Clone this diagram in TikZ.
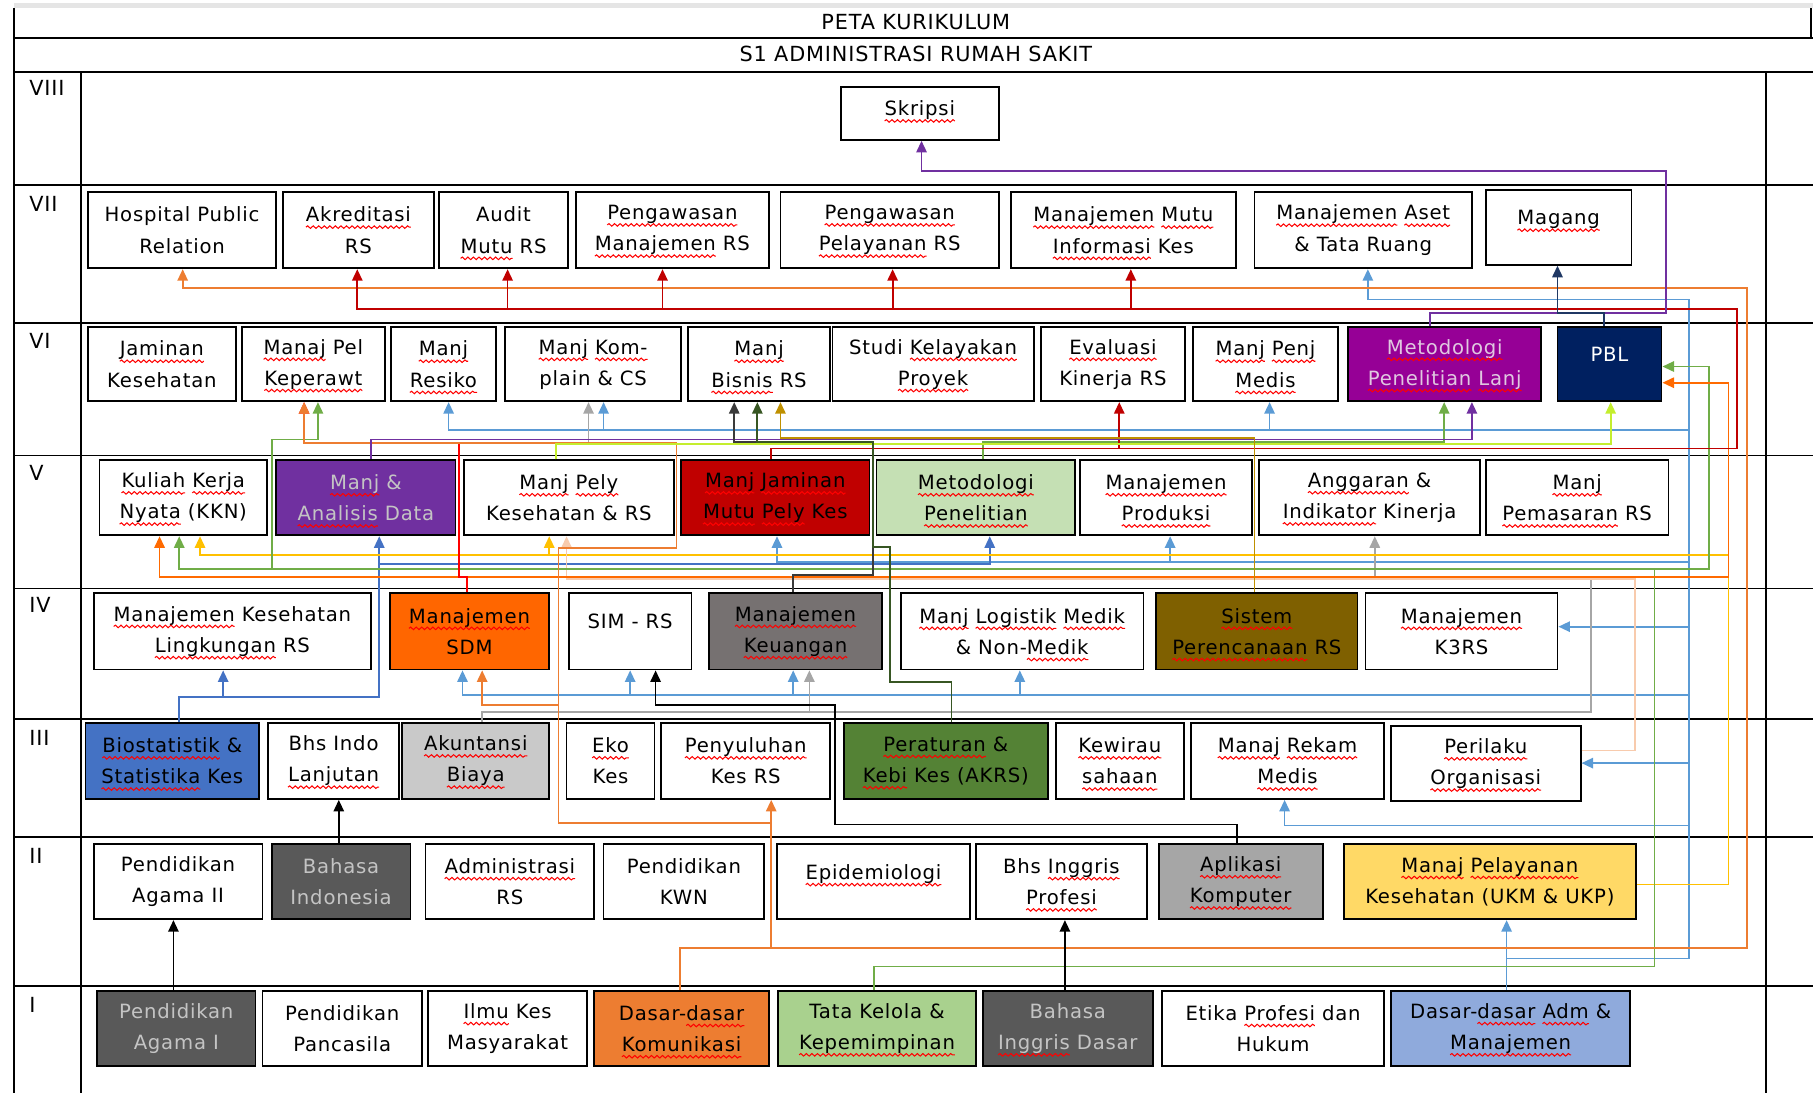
\documentclass[tikz,border=0pt]{standalone}
\usepackage{fontspec}
\setmainfont{DejaVu Sans}[LetterSpace=4]
\usetikzlibrary{fit,arrows.meta,decorations.pathmorphing}
\newcommand\wv[1]{\tikz[baseline=(w.base)]{\node[draw=none,fill=none,inner sep=0pt,outer sep=0pt,minimum width=0pt,minimum height=0pt,anchor=base,shape=rectangle] (w) at (0,0) {#1}; \draw[overlay,red,line width=0.45pt,fill=none,decorate,decoration={snake,amplitude=0.55pt,segment length=2.4pt}] ([yshift=-2.3pt]w.base west) -- ([yshift=-2.3pt]w.base east);}}
\newcommand\oneln[1]{\raisebox{1pt}[0pt][0pt]{#1}}
\newcommand\bfnt{\fontsize{8.5}{13.5}\selectfont}
\newcommand\bx[7]{\node[box,#6,fit={(#2,#3) (#4,#5)}] (#1) {};
  \node[btxt,#6,fill=none] (#1t) at (#1.center) {#7};}
\definecolor{cOrg}{HTML}{ED7D31}
\definecolor{cBOrg}{HTML}{FF6A00}
\definecolor{cRed}{HTML}{C00000}
\definecolor{cBRed}{HTML}{FF0000}
\definecolor{cLB}{HTML}{5B9BD5}
\definecolor{cDB}{HTML}{4472C4}
\definecolor{cGrn}{HTML}{70AD47}
\definecolor{cDGrn}{HTML}{375623}
\definecolor{cGold}{HTML}{BF9000}
\definecolor{cYel}{HTML}{FFC000}
\definecolor{cLime}{HTML}{C4EE2E}
\definecolor{cSal}{HTML}{F8CBAD}
\definecolor{cGry}{HTML}{A6A6A6}
\definecolor{cPur}{HTML}{7030A0}
\definecolor{cNavy}{HTML}{203864}
\definecolor{cDk}{HTML}{3A3A3A}
\definecolor{fMetLanj}{HTML}{960096}
\definecolor{fPBL}{HTML}{002060}
\definecolor{fAnal}{HTML}{7030A0}
\definecolor{fJam}{HTML}{C00000}
\definecolor{fMet}{HTML}{C5E0B4}
\definecolor{fSDM}{HTML}{FF6600}
\definecolor{fKeu}{HTML}{767171}
\definecolor{fPer}{HTML}{7F6000}
\definecolor{fBio}{HTML}{4472C4}
\definecolor{fAku}{HTML}{C9C9C9}
\definecolor{fPera}{HTML}{548235}
\definecolor{fDark}{HTML}{595959}
\definecolor{fApl}{HTML}{A6A6A6}
\definecolor{fUKM}{HTML}{FFD966}
\definecolor{fKom}{HTML}{ED7D31}
\definecolor{fTata}{HTML}{A9D18E}
\definecolor{fAdm}{HTML}{8FAADC}
\definecolor{tLight}{HTML}{C4C4C4}
\definecolor{tPink}{HTML}{E0C8E0}
\begin{document}
\begin{tikzpicture}[x=0.5pt,y=-0.5pt,
  box/.style={draw=black,line width=0.8pt,inner sep=0pt},
  btxt/.style={draw=none,inner sep=0pt,align=center,font=\bfnt,text=black},
  tbl/.style={line width=0.8pt,black},
  ln/.style={line width=0.75pt},
  ar/.style={ln,-{Triangle[length=5pt,width=4.5pt]}},
  rowlbl/.style={anchor=north west,inner sep=0pt,font=\fontsize{9}{10}\selectfont},
  ttl/.style={inner sep=0pt,font=\fontsize{9}{10}\selectfont}]
\useasboundingbox (0,0) rectangle (1568,945);
% ---------- table ----------
\fill[black!10] (12,3) rectangle (1568,7);
\draw[tbl] (12,7) -- (12,945);
\draw[tbl] (1566,7) -- (1566,33);
\foreach \yy in {33,62,160,279,394,509,622,724,853} \draw[tbl] (12,\yy) -- (1568,\yy);
\draw[tbl] (70,62) -- (70,945);
\draw[tbl] (1527,62) -- (1527,945);
\node[ttl] (t1) at (792,19) {PETA KURIKULUM};
\node[ttl] (t2) at (792,47) {S1 ADMINISTRASI RUMAH SAKIT};
\node[rowlbl] (r8) at (25,69) {VIII};
\node[rowlbl] (r7) at (25,169) {VII};
\node[rowlbl] (r6) at (25,288) {VI};
\node[rowlbl] (r5) at (25,402) {V};
\node[rowlbl] (r4) at (25,516) {IV};
\node[rowlbl] (r3) at (25,631) {III};
\node[rowlbl] (r2) at (25,733) {II};
\node[rowlbl] (r1) at (25,862) {I};
% ---------- boxes ----------
\bx{skripsi}{727}{75}{864}{121}{}{\raisebox{-1pt}[0pt][0pt]{\wv{Skripsi}}}
% VII
\bx{hpr}{76}{166}{239}{232}{}{Hospital Public\\Relation}
\bx{akre}{245}{166}{375}{232}{}{\wv{Akreditasi}\\RS}
\bx{audit}{380}{166}{491}{232}{}{Audit\\\wv{Mutu} RS}
\bx{pman}{498}{166}{665}{232}{}{\wv{Pengawasan}\\\wv{Manajemen} RS}
\bx{ppel}{675}{166}{864}{232}{}{\wv{Pengawasan}\\\wv{Pelayanan} RS}
\bx{mmik}{874}{166}{1069}{232}{}{\wv{Manajemen} \wv{Mutu}\\\wv{Informasi} Kes}
\bx{aset}{1085}{166}{1273}{232}{}{\wv{Manajemen} \wv{Aset}\\\& Tata Ruang}
\bx{magang}{1285}{164}{1411}{229}{}{\oneln{\wv{Magang}}}
% VI
\bx{jamkes}{76}{283}{204}{347}{}{\wv{Jaminan}\\Kesehatan}
\bx{keper}{209}{283}{333}{347}{}{\wv{Manaj} Pel\\\wv{Keperawt}}
\bx{resiko}{338}{283}{429}{347}{}{\wv{Manj}\\\wv{Resiko}}
\bx{komplain}{437}{283}{589}{347}{}{\wv{Manj} \wv{Kom-}\\plain \& CS}
\bx{bisnis}{595}{283}{718}{347}{}{\wv{Manj}\\\wv{Bisnis} RS}
\bx{studi}{720}{283}{894}{347}{}{Studi \wv{Kelayakan}\\\wv{Proyek}}
\bx{evalu}{900}{283}{1025}{347}{}{\wv{Evaluasi}\\Kinerja RS}
\bx{penj}{1032}{283}{1157}{347}{}{\wv{Manj} \wv{Penj}\\\wv{Medis}}
\bx{metlanj}{1166}{283}{1333}{347}{fill=fMetLanj,text=tPink}{\wv{Metodologi}\\\wv{Penelitian} \wv{Lanj}}
\bx{pbl}{1347}{283}{1437}{347}{fill=fPBL,text=white}{\oneln{PBL}}
% V
\bx{kkn}{86}{398}{231}{463}{}{\wv{Kuliah} \wv{Kerja}\\\wv{Nyata} (KKN)}
\bx{analisis}{239}{398}{394}{463}{fill=fAnal,text=tLight}{\wv{Manj} \&\\\wv{Analisis} Data}
\bx{pely}{401}{398}{583}{463}{}{\wv{Manj} \wv{Pely}\\Kesehatan \& RS}
\bx{jammutu}{589}{398}{752}{463}{fill=fJam}{\wv{Manj} \wv{Jaminan}\\\wv{Mutu} \wv{Pely} Kes}
\bx{metpen}{758}{398}{930}{463}{fill=fMet}{\wv{Metodologi}\\\wv{Penelitian}}
\bx{produksi}{934}{398}{1083}{463}{}{\wv{Manajemen}\\\wv{Produksi}}
\bx{anggaran}{1089}{398}{1280}{463}{}{\wv{Anggaran} \&\\\wv{Indikator} Kinerja}
\bx{pemasaran}{1285}{398}{1443}{463}{}{\wv{Manj}\\\wv{Pemasaran} RS}
% IV
\bx{kesling}{81}{513}{321}{579}{}{\wv{Manajemen} Kesehatan\\\wv{Lingkungan} RS}
\bx{sdm}{337}{513}{475}{579}{fill=fSDM}{\wv{Manajemen}\\SDM}
\bx{sim}{492}{513}{598}{579}{}{\oneln{SIM - RS}}
\bx{keuangan}{613}{513}{763}{579}{fill=fKeu}{\wv{Manajemen}\\\wv{Keuangan}}
\bx{logistik}{779}{513}{989}{579}{}{\wv{Manj} \wv{Logistik} \wv{Medik}\\\& Non-\wv{Medik}}
\bx{perencanaan}{1000}{513}{1174}{579}{fill=fPer}{\wv{Sistem}\\\wv{Perencanaan} RS}
\bx{k3rs}{1181}{513}{1347}{579}{}{\wv{Manajemen}\\K3RS}
% III
\bx{biostat}{74}{625}{224}{691}{fill=fBio}{\wv{Biostatistik} \&\\\wv{Statistika} Kes}
\bx{bhsindol}{232}{625}{345}{691}{}{Bhs Indo\\\wv{Lanjutan}}
\bx{akuntansi}{348}{625}{475}{691}{fill=fAku}{\wv{Akuntansi}\\\wv{Biaya}}
\bx{eko}{490}{625}{566}{691}{}{\wv{Eko}\\Kes}
\bx{penyuluhan}{572}{625}{718}{691}{}{\wv{Penyuluhan}\\Kes RS}
\bx{peraturan}{730}{625}{906}{691}{fill=fPera}{\wv{Peraturan} \&\\\wv{Kebi} Kes (AKRS)}
\bx{kewira}{913}{625}{1024}{691}{}{\wv{Kewirau}\\\wv{sahaan}}
\bx{rekam}{1030}{625}{1197}{691}{}{\wv{Manaj} \wv{Rekam}\\\wv{Medis}}
\bx{perilaku}{1203}{628}{1367}{693}{}{\wv{Perilaku}\\\wv{Organisasi}}
% II
\bx{agama2}{81}{730}{227}{795}{}{Pendidikan\\Agama II}
\bx{bahasaind}{235}{730}{355}{795}{fill=fDark,text=tLight}{Bahasa\\Indonesia}
\bx{adminrs}{368}{730}{514}{795}{}{\wv{Administrasi}\\RS}
\bx{kwn}{522}{730}{661}{795}{}{Pendidikan\\KWN}
\bx{epid}{672}{730}{839}{795}{}{\oneln{\wv{Epidemiologi}}}
\bx{inggprof}{844}{730}{992}{795}{}{Bhs \wv{Inggris}\\\wv{Profesi}}
\bx{aplikasi}{1002}{730}{1144}{795}{fill=fApl}{\wv{Aplikasi}\\\wv{Komputer}}
\bx{ukm}{1162}{730}{1415}{795}{fill=fUKM}{\wv{Manaj} \wv{Pelayanan}\\Kesehatan (UKM \& UKP)}
% I
\bx{agama1}{84}{857}{221}{922}{fill=fDark,text=tLight}{Pendidikan\\Agama I}
\bx{pancasila}{227}{857}{365}{922}{}{Pendidikan\\Pancasila}
\bx{ilmukes}{370}{857}{508}{922}{}{\wv{Ilmu} Kes\\Masyarakat}
\bx{komunikasi}{514}{857}{665}{922}{fill=fKom}{Dasar-\wv{dasar}\\\wv{Komunikasi}}
\bx{tatakelola}{673}{857}{844}{922}{fill=fTata}{Tata Kelola \&\\\wv{Kepemimpinan}}
\bx{inggdasar}{850}{857}{997}{922}{fill=fDark,text=tLight}{Bahasa\\\wv{Inggris} Dasar}
\bx{etika}{1005}{857}{1197}{922}{}{Etika \wv{Profesi} dan\\Hukum}
\bx{dasaradm}{1203}{857}{1410}{922}{fill=fAdm}{Dasar-\wv{dasar} \wv{Adm} \&\\\wv{Manajemen}}
% ---------- connector start points ----------
\coordinate (adm0) at (dasaradm.north -| 1303,0);
\coordinate (bio0) at (biostat.north -| 155,0);
\coordinate (kom0) at (komunikasi.north -| 588,0);
\coordinate (sdm0) at (sdm.north -| 404,0);
\coordinate (jm0) at (jammutu.north -| 667,0);
\coordinate (tk0) at (tatakelola.north -| 756,0);
\coordinate (ukm0) at (ukm.east |- 0,765);
% ---------- light blue (Dasar-dasar Adm) ----------
\draw[ar,cLB] (adm0) -- (ukm.south -| 1303,0);
\draw[ar,cLB] (adm0) |- (1461,829) -- (1461,259) -| (aset.south -| 1183,0);
\draw[ar,cLB] (adm0) |- (1461,829) -- (1461,372) -| (resiko.south -| 388,0);
\draw[ar,cLB] (adm0) |- (1461,829) -- (1461,372) -| (komplain.south -| 522,0);
\draw[ar,cLB] (adm0) |- (1461,829) -- (1461,372) -| (penj.south -| 1098,0);
\draw[ar,cLB] (adm0) |- (1461,829) -- (1461,486) -| (jammutu.south -| 672,0);
\draw[ar,cLB] (adm0) |- (1461,829) -- (1461,486) -| (produksi.south -| 1012,0);
\draw[ar,cLB] (adm0) |- (1461,829) -- (1461,542) -- (k3rs.east |- 0,542);
\draw[ar,cLB] (adm0) |- (1461,829) -- (1461,601) -| (sdm.south -| 400,0);
\draw[ar,cLB] (adm0) |- (1461,829) -- (1461,601) -| (sim.south -| 545,0);
\draw[ar,cLB] (adm0) |- (1461,829) -- (1461,601) -| (keuangan.south -| 686,0);
\draw[ar,cLB] (adm0) |- (1461,829) -- (1461,601) -| (logistik.south -| 882,0);
\draw[ar,cLB] (adm0) |- (1461,829) -- (1461,660) -- (perilaku.east |- 0,660);
\draw[ar,cLB] (adm0) |- (1461,829) -- (1461,714) -| (rekam.south -| 1111,0);
% ---------- dark blue (Biostatistik) ----------
\draw[ar,cDB] (bio0) |- (328,603) -- (analisis.south -| 328,0);
\draw[ar,cDB] (bio0) |- (193,603) -- (kesling.south -| 193,0);
\draw[ar,cDB] (bio0) |- (328,603) -- (328,488) -| (metpen.south -| 856,0);
% ---------- gray (Akuntansi Biaya) ----------
\draw[ar,cGry] (akuntansi.north -| 417,0) |- (1376,616) |- (1189,500) -- (anggaran.south -| 1189,0);
\draw[ar,cGry] (akuntansi.north -| 417,0) |- (700,616) -- (keuangan.south -| 700,0);
\draw[ar,cGry] (pely.north -| 481,0) |- (509,384) -- (komplain.south -| 509,0);
% ---------- yellow (UKM & UKP) ----------
\draw[ar,cYel] (ukm0) -| (1495,480) -| (kkn.south -| 173,0);
\draw[ar,cYel] (ukm0) -| (1495,480) -| (pely.south -| 475,0);
% ---------- salmon (Perilaku) ----------
\draw[ar,cSal] (perilaku.east |- 0,649) -| (1414,501) -| (pely.south -| 490,0);
% ---------- green (Tata Kelola) ----------
\draw[ar,cGrn] (tk0) |- (1431,836) |- (155,492) -- (kkn.south -| 155,0);
\draw[ar,cGrn] (tk0) |- (1431,836) |- (235,492) |- (275,380) -- (keper.south -| 275,0);
\draw[ar,cGrn] (tk0) |- (1431,836) -- (1431,492) -| (1478,317) -- (pbl.east |- 0,317);
% ---------- green (Metodologi Penelitian) ----------
\draw[ar,cGrn] (metpen.north -| 850,0) |- (1249,382) -- (metlanj.south -| 1249,0);
% ---------- SDM ----------
\draw[ar,cBOrg] (sdm0) |- (138,499) -- (kkn.south -| 138,0);
\draw[ar,cBOrg] (sdm0) |- (1495,499) |- (pbl.east |- 0,331);
\draw[ar,cBRed] (sdm0) |- (397,499) -- (397,383) -| (keper.south -| 263,0);
% ---------- orange (Dasar Komunikasi) ----------
\draw[ar,cOrg] (kom0) |- (1511,820) |- (158,249) -- (hpr.south -| 158,0);
\draw[ar,cOrg] (kom0) |- (667,820) -- (penyuluhan.south -| 667,0);
\draw[ar,cOrg] (kom0) |- (667,820) -- (667,712) -| (483,474) -| (585,383) -| (keper.south -| 263,0);
\draw[ar,cOrg] (kom0) |- (667,820) -- (667,712) -| (483,610) -| (sdm.south -| 417,0);
\draw[ln,cBRed] (sdm0) |- (397,499) -- (397,384);
% ---------- dark red (Jaminan Mutu) ----------
\draw[ar,cRed] (jm0) |- (1502,388) |- (309,267) -- (akre.south -| 309,0);
\draw[ar,cRed] (jm0) |- (1502,388) |- (439,267) -- (audit.south -| 439,0);
\draw[ar,cRed] (jm0) |- (1502,388) |- (573,267) -- (pman.south -| 573,0);
\draw[ar,cRed] (jm0) |- (1502,388) |- (772,267) -- (ppel.south -| 772,0);
\draw[ar,cRed] (jm0) |- (1502,388) |- (978,267) -- (mmik.south -| 978,0);
\draw[ar,cRed] (jm0) |- (968,388) -- (evalu.south -| 968,0);
% ---------- purple ----------
\draw[ar,cPur] (analisis.north -| 321,0) |- (1273,380) -- (metlanj.south -| 1273,0);
\draw[ar,cPur] (metlanj.north -| 1237,0) |- (1441,271) |- (797,148) -- (skripsi.south -| 797,0);
% ---------- lime (Manj Pely) ----------
\draw[ar,cLime] (pely.north -| 481,0) |- (1393,384) -- (pbl.south -| 1393,0);
% ---------- gold (Sistem Perencanaan) ----------
\draw[ar,cGold] (perencanaan.north -| 1085,0) |- (675,379) -- (bisnis.south -| 675,0);
% ---------- dark (Keuangan) and dark green (Peraturan) ----------
\draw[ar,cDk] (keuangan.north -| 686,0) |- (755,497) |- (635,382) -- (bisnis.south -| 635,0);
\draw[ar,cDGrn] (peraturan.north -| 823,0) |- (770,590) |- (755,473) |- (655,382) -- (bisnis.south -| 655,0);
% ---------- navy (PBL) ----------
\draw[ar,cNavy] (pbl.north -| 1387,0) |- (1347,271) -- (magang.south -| 1347,0);
% ---------- black ----------
\draw[ar,black] (agama1.north -| 150,0) -- (agama2.south -| 150,0);
\draw[ar,black] (bahasaind.north -| 293,0) -- (bhsindol.south -| 293,0);
\draw[ar,black] (inggdasar.north -| 921,0) -- (inggprof.south -| 921,0);
\draw[ar,black] (aplikasi.north -| 1070,0) |- (722,713) |- (567,610) -- (sim.south -| 567,0);
\end{tikzpicture}
\end{document}
